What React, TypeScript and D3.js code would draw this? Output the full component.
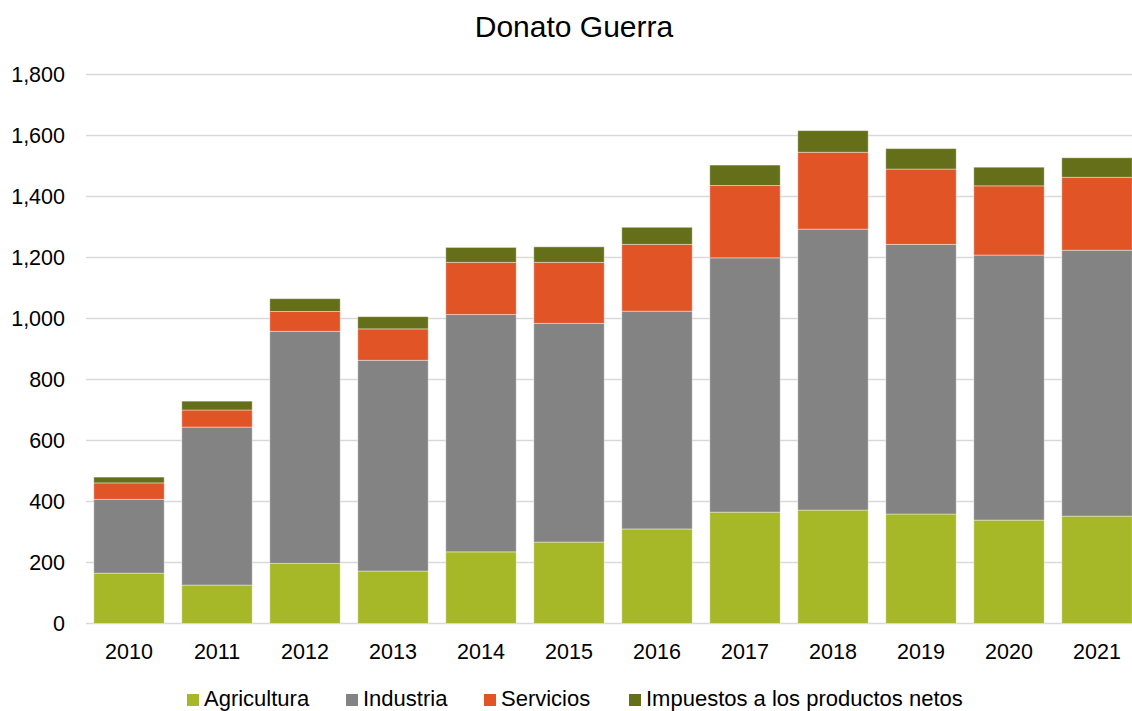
import React, { useEffect, useRef } from "react";
import * as d3 from "d3";

const years = ["2010", "2011", "2012", "2013", "2014", "2015", "2016", "2017", "2018", "2019", "2020", "2021"];
const agricultura = [165, 126, 197, 172, 235, 267, 310, 365, 372, 359, 339, 352];
const industria = [242, 518, 761, 691, 778, 717, 714, 834, 921, 884, 869, 872];
const servicios = [54, 56, 65, 103, 171, 200, 219, 237, 252, 247, 227, 239];
const impuestos = [19, 29, 42, 40, 49, 51, 56, 67, 71, 67, 61, 64];
const yTicks = [0, 200, 400, 600, 800, 1000, 1200, 1400, 1600, 1800];

const seriesNames = ["Agricultura", "Industria", "Servicios", "Impuestos a los productos netos"];
const colors = ["#a6b727", "#838383", "#e05426", "#656f19"];

function App() {
  const ref = useRef<SVGSVGElement>(null);

  useEffect(() => {
    const width = 1132, height = 711;
    const svg = d3.select(ref.current);
    svg.selectAll("*").remove();

    const font = "Liberation Sans, Arial, sans-serif";

    // build table for the stack
    const table = years.map((y, i) => ({
      year: y,
      Agricultura: agricultura[i],
      Industria: industria[i],
      Servicios: servicios[i],
      "Impuestos a los productos netos": impuestos[i],
    }));
    const stacked = d3.stack<any>().keys(seriesNames)(table);

    const x = d3.scaleBand().domain(years).range([85, 1141]).paddingInner(0.2).paddingOuter(0.1);
    const y = d3.scaleLinear().domain([0, 1800]).range([623.5, 74.5]);

    // gridlines
    svg.append("g")
      .selectAll("line")
      .data(yTicks)
      .enter()
      .append("line")
      .attr("x1", 86)
      .attr("x2", width)
      .attr("y1", d => y(d))
      .attr("y2", d => y(d))
      .attr("stroke", "#d9d9d9")
      .attr("stroke-width", 1.5);

    // y labels
    svg.append("g")
      .selectAll("text")
      .data(yTicks)
      .enter()
      .append("text")
      .attr("x", 65)
      .attr("y", d => y(d))
      .attr("dy", "0.33em")
      .attr("text-anchor", "end")
      .style("font-family", font)
      .style("font-size", "21.5px")
      .attr("fill", "#000")
      .text(d => d3.format(",")(d));

    // bars
    svg.append("g")
      .selectAll("g")
      .data(stacked)
      .enter()
      .append("g")
      .attr("fill", (d, i) => colors[i])
      .selectAll("rect")
      .data(d => d)
      .enter()
      .append("rect")
      .attr("x", d => x(d.data.year)!)
      .attr("width", x.bandwidth())
      .attr("y", d => y(d[1]))
      .attr("height", d => y(d[0]) - y(d[1]))
      .attr("stroke", "rgba(255,255,255,0.4)")
      .attr("stroke-width", 1);

    // x labels
    svg.append("g")
      .selectAll("text")
      .data(years)
      .enter()
      .append("text")
      .attr("x", d => x(d)! + x.bandwidth() / 2)
      .attr("y", 659)
      .attr("text-anchor", "middle")
      .style("font-family", font)
      .style("font-size", "21.5px")
      .attr("fill", "#000")
      .text(d => d);

    // title
    svg.append("text")
      .attr("x", 574)
      .attr("y", 37)
      .attr("text-anchor", "middle")
      .style("font-family", font)
      .style("font-size", "30px")
      .attr("fill", "#000")
      .text("Donato Guerra");

    // legend
    const legendX = [187, 346, 484, 629];
    const legend = svg.append("g")
      .selectAll("g")
      .data(seriesNames)
      .enter()
      .append("g")
      .attr("transform", (d, i) => `translate(${legendX[i]},706)`);
    legend.append("rect")
      .attr("x", 0)
      .attr("y", -12)
      .attr("width", 12)
      .attr("height", 12)
      .attr("fill", (d, i) => colors[i]);
    legend.append("text")
      .attr("x", 17)
      .attr("y", 0)
      .style("font-family", font)
      .style("font-size", "22px")
      .attr("fill", "#000")
      .text(d => d);
  }, []);

  return (
    <svg ref={ref} width={1132} height={711} style={{ position: "absolute", left: 0, top: 0, background: "#fff" }} />
  );
}

export default App;
